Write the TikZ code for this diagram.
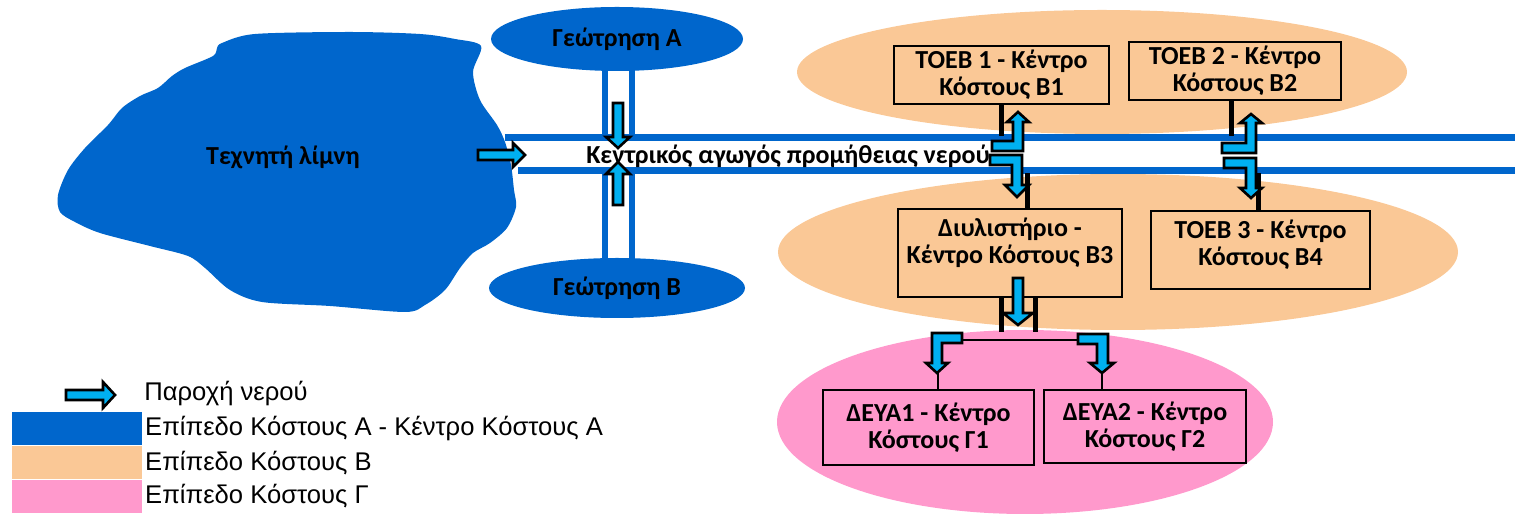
\documentclass[tikz,border=0pt]{standalone}
\usepackage{fontspec}
\setmainfont{Carlito}
\newfontfamily\legendfont{Liberation Sans}
\usepackage{tikz}
\usetikzlibrary{shapes.geometric, positioning, calc}

\definecolor{costA}{RGB}{0,102,204}
\definecolor{costB}{RGB}{250,200,150}
\definecolor{costC}{RGB}{255,153,204}
\definecolor{flowcyan}{RGB}{0,176,240}

\begin{document}
\begin{tikzpicture}[
        x=0.5pt, y=-0.5pt,
        zone/.style={ellipse, inner sep=0pt},
        wellnode/.style={ellipse, fill=costA, inner sep=0pt, font=\bfseries\fontsize{13}{13.5}\selectfont},
        costbox/.style={rectangle, draw, line width=1.4pt, fill=costB, align=center,
                inner sep=0pt, font=\bfseries\fontsize{13}{13.5}\selectfont},
        boxtext/.style={align=center, font=\bfseries\fontsize{13}{13.5}\selectfont},
        pipe/.style={costA, line width=3.5pt},
        wellpipe/.style={costA, line width=3pt},
        stub/.style={black, line width=2.5pt},
        feed/.style={black, line width=1pt},
        flowarrow/.style={draw=black, fill=flowcyan, line width=1.3pt, line join=miter},
        legkey/.style={rectangle, inner sep=0pt, minimum width=65pt, minimum height=16.5pt},
        legtext/.style={font=\legendfont\fontsize{12.8}{14}\selectfont, inner xsep=1pt}, ]
        \useasboundingbox (0,0) rectangle (1515,517);

        % === COST LEVEL ZONES ===
        \node[zone, fill=costC, minimum width=248pt, minimum height=92pt] (zoneC) at (1025,422) {};
        \node[zone, fill=costB, minimum width=305pt, minimum height=62pt] (zoneBtop) at (1102,72) {};
        \node[zone, fill=costB, minimum width=340pt, minimum height=78pt] (zoneBbot) at (1118,252) {};

        % === LAKE ===
        \fill[costA] plot[smooth cycle, tension=0.5] coordinates {
                (222,43) (255,34) (350,32) (420,34) (455,39) (481,46) (473,72) (480,100)
                (497,125) (505,142) (511,165) (514,190) (516,207) (507,228) (490,243)
                (473,253) (460,268) (445,290) (425,305) (405,312) (330,306) (262,302)
                (230,290) (205,268) (188,256) (150,246) (100,233) (75,222) (60,212)
                (58,195) (68,170) (85,148) (108,125) (122,108) (140,96) (158,88)
                (172,76) (185,68) (213,56) (217,48)};
        \node[boxtext] (lake) at (283,157) {Τεχνητή λίμνη};

        % === WELLS ===
        \foreach \dx in {-12,15} {
                \draw[wellpipe] (617+\dx,60) -- (617+\dx,138);
                \draw[wellpipe] (617+\dx,171) -- (617+\dx,270);
            }
        \node[wellnode, minimum width=126pt, minimum height=32pt] (wellA) at (617,39) {Γεώτρηση Α};
        \node[wellnode, minimum width=128pt, minimum height=30pt] (wellB) at (617,288) {Γεώτρηση Β};

        % === MAIN PIPE ===
        \coordinate (pipetop) at (505,138);
        \coordinate (pipebot) at (518,171);
        \fill[white] (700,138) rectangle (1515,171);
        \draw[pipe] (pipetop) -- (1515,138);
        \draw[pipe] (pipebot) -- (1515,171);
        \node[boxtext] (mainpipe) at (788,156) {Κεντρικός αγωγός προμήθειας νερού};

        % === COST CENTRES ===
        \node[costbox, minimum width=107.5pt, minimum height=29pt] (b1) at (1001.5,75) {ΤΟΕΒ 1 - Κέντρο\\Κόστους Β1};
        \node[costbox, minimum width=106pt, minimum height=29pt] (b2) at (1235,71) {ΤΟΕΒ 2 - Κέντρο\\Κόστους Β2};
        \node[costbox, minimum width=112pt, minimum height=44pt,
            label={[boxtext, anchor=north, yshift=-1.5pt]north:{Διυλιστήριο -\\Κέντρο Κόστους Β3}}] (b3) at (1010,253) {};
        \node[costbox, minimum width=109.5pt, minimum height=39pt,
            label={[boxtext, anchor=north, yshift=-1.5pt]north:{ΤΟΕΒ 3 - Κέντρο\\Κόστους Β4}}] (b4) at (1260.5,250) {};
        \node[costbox, fill=costC, minimum width=105.5pt, minimum height=37.5pt] (g1) at (928.5,427.5) {ΔΕΥΑ1 - Κέντρο\\Κόστους Γ1};
        \node[costbox, fill=costC, minimum width=101pt, minimum height=36.5pt] (g2) at (1145,426.5) {ΔΕΥΑ2 - Κέντρο\\Κόστους Γ2};

        % stubs to the pipe
        \draw[stub] (b1.south) -- ++(0,30.5);
        \draw[stub] (b2.south) ++(-4,0) -- ++(0,34.5);
        \draw[stub] (b3.north) ++(17,0) -- ++(0,-34.5);
        \draw[stub] (b4.north) ++(-2,0) -- ++(0,-36.5);
        \foreach \dx in {-9,25} {
                \draw[stub] (b3.south) ++(\dx,0) -- ++(0,34);
            }

        % split to the water utilities
        \coordinate (teeL) at (938,340);
        \coordinate (teeR) at (1102,340);
        \draw[feed] (g1.north -| teeL) -- (teeL) -- (teeR) -- (g2.north -| teeR);

        % === WATER FLOW ARROWS ===
        \draw[flowarrow] (478,150) -- ++(35,0) -- ++(0,-7) -- ++(12,12) -- ++(-12,12) -- ++(0,-7) -- ++(-35,0) -- cycle;
        \draw[flowarrow] (613,103) -- ++(10,0) -- ++(0,34) -- ++(7,0) -- ++(-12,11) -- ++(-12,-11) -- ++(7,0) -- cycle;
        \draw[flowarrow] (613,205) -- ++(10,0) -- ++(0,-31) -- ++(7,0) -- ++(-12,-12) -- ++(-12,12) -- ++(7,0) -- cycle;
        \draw[flowarrow] (992,151) -- ++(0,-10) -- ++(21,0) -- ++(0,-19) -- ++(-6,0) -- ++(11,-10) -- ++(11,10) -- ++(-6,0) -- ++(0,29) -- cycle;
        \draw[flowarrow] (990,155) -- ++(32,0) -- ++(0,30) -- ++(7,0) -- ++(-12,12) -- ++(-12,-12) -- ++(7,0) -- ++(0,-20) -- ++(-22,0) -- cycle;
        \draw[flowarrow] (1222,153) -- ++(0,-10) -- ++(24,0) -- ++(0,-20) -- ++(-6,0) -- ++(11,-9) -- ++(11,9) -- ++(-6,0) -- ++(0,30) -- cycle;
        \draw[flowarrow] (1224,158) -- ++(32,0) -- ++(0,30) -- ++(6,0) -- ++(-11,10) -- ++(-11,-10) -- ++(6,0) -- ++(0,-20) -- ++(-22,0) -- cycle;
        \draw[flowarrow] (1013,278) -- ++(10,0) -- ++(0,35) -- ++(10,0) -- ++(-15,12) -- ++(-15,-12) -- ++(10,0) -- cycle;
        \draw[flowarrow] (962,333) -- ++(0,10) -- ++(-20,0) -- ++(0,20) -- ++(6,0) -- ++(-11,10) -- ++(-11,-10) -- ++(6,0) -- ++(0,-30) -- cycle;
        \draw[flowarrow] (1078,334) -- ++(30,0) -- ++(0,29) -- ++(6,0) -- ++(-12,10) -- ++(-12,-10) -- ++(7,0) -- ++(0,-19) -- ++(-19,0) -- cycle;

        % === LEGEND ===
        \draw[flowarrow] (66,390) -- ++(37,0) -- ++(0,-8) -- ++(12,13) -- ++(-12,13) -- ++(0,-8) -- ++(-37,0) -- cycle;
        \node[legtext, anchor=west] (txtflow) at (142,394) {Παροχή νερού};
        \node[legkey, fill=costA, anchor=north west] (keyA) at (12,412) {};
        \node[legkey, fill=costB, below=0pt of keyA] (keyB) {};
        \node[legkey, fill=costC, below=0pt of keyB] (keyC) {};
        \node[legtext, right=0pt of keyA] (txtA) {Επίπεδο Κόστους Α - Κέντρο Κόστους Α};
        \node[legtext, right=0pt of keyB] (txtB) {Επίπεδο Κόστους Β};
        \node[legtext, right=0pt of keyC] (txtC) {Επίπεδο Κόστους Γ};
    \end{tikzpicture}
\end{document}
